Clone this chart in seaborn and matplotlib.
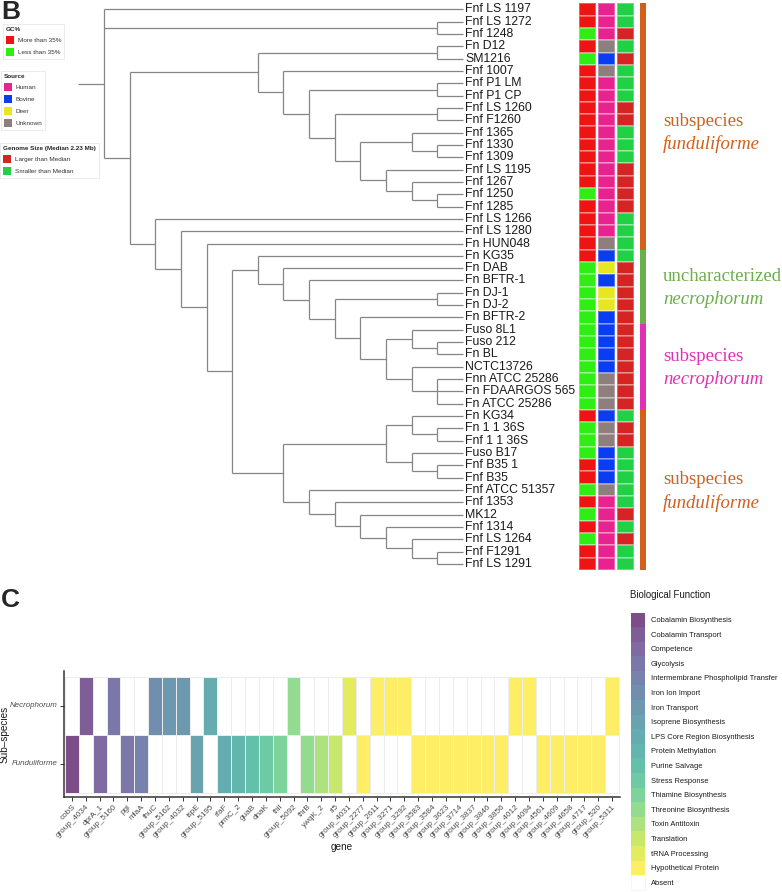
import matplotlib
matplotlib.use("Agg")
import matplotlib.pyplot as plt
from matplotlib.patches import Patch
from matplotlib.collections import LineCollection
from matplotlib.colors import ListedColormap
import numpy as np
import pandas as pd
import seaborn as sns

sns.set_style("white")
plt.rcParams['font.family'] = ['Liberation Sans', 'DejaVu Sans']

W, H = 782, 892

# ------------------------------------------------------------------ data B
tips = ["Fnf LS 1197", "Fnf LS 1272", "Fnf 1248", "Fn D12", "SM1216", "Fnf 1007",
        "Fnf P1 LM", "Fnf P1 CP", "Fnf LS 1260", "Fnf F1260", "Fnf 1365", "Fnf 1330",
        "Fnf 1309", "Fnf LS 1195", "Fnf 1267", "Fnf 1250", "Fnf 1285", "Fnf LS 1266",
        "Fnf LS 1280", "Fn HUN048", "Fn KG35", "Fn DAB", "Fn BFTR-1", "Fn DJ-1",
        "Fn DJ-2", "Fn BFTR-2", "Fuso 8L1", "Fuso 212", "Fn BL", "NCTC13726",
        "Fnn ATCC 25286", "Fn FDAARGOS 565", "Fn ATCC 25286", "Fn KG34", "Fn 1 1 36S",
        "Fnf 1 1 36S", "Fuso B17", "Fnf B35 1", "Fnf B35", "Fnf ATCC 51357", "Fnf 1353",
        "MK12", "Fnf 1314", "Fnf LS 1264", "Fnf F1291", "Fnf LS 1291"]

clade_upper = ("((Fn D12,SM1216),(Fnf 1007,((Fnf P1 LM,Fnf P1 CP),((Fnf LS 1260,Fnf F1260),"
               "((Fnf 1365,(Fnf 1330,Fnf 1309)),(Fnf LS 1195,(Fnf 1267,(Fnf 1250,Fnf 1285))))))))")
clade_nec = ("(Fn KG35,(Fn DAB,(Fn BFTR-1,((Fn DJ-1,Fn DJ-2),(Fn BFTR-2,((Fuso 8L1,(Fuso 212,Fn BL)),"
             "(NCTC13726,(Fnn ATCC 25286,Fn FDAARGOS 565,Fn ATCC 25286))))))))")
clade_fund_low = ("(((Fn KG34,(Fn 1 1 36S,Fnf 1 1 36S)),(Fuso B17,(Fnf B35 1,Fnf B35))),"
                  "(Fnf ATCC 51357,(Fnf 1353,(MK12,(Fnf 1314,(Fnf LS 1264,(Fnf F1291,Fnf LS 1291)))))))")
clade_lower = "(Fnf LS 1266,(Fnf LS 1280,(Fn HUN048,(" + clade_nec + "," + clade_fund_low + "))))"
tree_newick = "(Fnf LS 1197,(Fnf LS 1272,Fnf 1248),(" + clade_upper + "," + clade_lower + "));"

gc_codes = "MMLMLMMMMMMMMMMLMMMMMLLLLLLLLLLLLMLLLMMLMLMLMM"
source_codes = "HHHUBUHHHHHHHHHHHHHUBDBDDBBBBBUUUBUUBBBUHHHHHH"
genome_codes = "SSLSLSSSLLSSSLLLLSSSSLLLLLLLLLLLLSLLSSSSSLSLSS"

gc_names = {"M": "More than 35%", "L": "Less than 35%"}
gc_colors = {"M": "#EE1414", "L": "#2EEE14"}
source_names = {"H": "Human", "B": "Bovine", "D": "Deer", "U": "Unknown"}
source_colors = {"H": "#E8228E", "B": "#0A3CF2", "D": "#E8E61E", "U": "#8F7E7E"}
genome_names = {"L": "Larger than Median", "S": "Smaller than Median"}
genome_colors = {"L": "#D42424", "S": "#22D046"}

clade_run_top = ["subspecies", "uncharacterized", "subspecies", "subspecies"]
clade_run_bottom = ["funduliforme", "necrophorum", "necrophorum", "funduliforme"]
clade_run_lengths = [20, 6, 7, 13]
clade_colors = ["#D2601C", "#6AAF48", "#E030B8", "#D2601C"]

# ------------------------------------------------------------------ data C
genes = ["cobS", "group_4034", "dprA_1", "group_5160", "pgi", "mlaA", "fhuC", "group_5162",
         "group_4032", "ispE", "group_5195", "rfaF", "prmC_2", "guaB", "dnaK", "thiI",
         "group_5092", "thrB", "ywqK_2", "rl5", "group_4031", "group_2277", "group_2611",
         "group_3271", "group_3292", "group_3583", "group_3584", "group_3623", "group_3714",
         "group_3837", "group_3846", "group_3856", "group_4012", "group_4094", "group_4561",
         "group_4609", "group_4658", "group_4717", "group_520", "group_5311"]
functions = ["Cobalamin Biosynthesis", "Cobalamin Transport", "Competence", "Glycolysis",
             "Intermembrane Phospholipid Transfer", "Iron Ion Import", "Iron Transport",
             "Isoprene Biosynthesis", "LPS Core Region Biosynthesis", "Protein Methylation",
             "Purine Salvage", "Stress Response", "Thiamine Biosynthesis",
             "Threonine Biosynthesis", "Toxin Antitoxin", "Translation", "tRNA Processing",
             "Hypothetical Protein"]
gene_function = [0, 1, 2, 3, 3, 4, 5, 6, 6, 7, 8, 8, 9, 10, 11, 12, 13, 13, 14, 15, 16] + [17] * 19
necro_present = [0, 1, 0, 1, 0, 0, 1, 1, 1, 0, 1, 0, 0, 0, 0, 0, 1, 0, 0, 0,
                 1, 0, 1, 1, 1, 0, 0, 0, 0, 0, 0, 0, 1, 1, 0, 0, 0, 0, 0, 1]
fundu_present = [1, 0, 1, 0, 1, 1, 0, 0, 0, 1, 0, 1, 1, 1, 1, 1, 0, 1, 1, 1,
                 0, 1, 0, 0, 0, 1, 1, 1, 1, 1, 1, 1, 0, 0, 1, 1, 1, 1, 1, 0]
subspecies = ["Necrophorum", "Funduliforme"]

# ------------------------------------------------------------------ helpers
fig = plt.figure(figsize=(W / 100, H / 100), dpi=100)


def box(x0, y0, x1, y1):
    return [x0 / W, 1 - y1 / H, (x1 - x0) / W, (y1 - y0) / H]


def parse_newick(s):
    s = s.strip().rstrip(';')
    pos = 0

    def node():
        nonlocal pos
        if s[pos] == '(':
            pos += 1
            ch = [node()]
            while s[pos] == ',':
                pos += 1
                ch.append(node())
            assert s[pos] == ')'
            pos += 1
            return ch
        st = pos
        while pos < len(s) and s[pos] not in ',()':
            pos += 1
        return s[st:pos].strip()
    return node()


def height(n):
    return 0 if isinstance(n, str) else 1 + max(height(c) for c in n)


tree = parse_newick(tree_newick)
Hmax = height(tree)
tip_order = []
segs = []


def walk(n):
    if isinstance(n, str):
        tip_order.append(n)
        return (Hmax, len(tip_order))
    pts = [walk(c) for c in n]
    x = Hmax - height(n)
    ys = [p[1] for p in pts]
    for cx, cy in pts:
        segs.append([(x, cy), (cx, cy)])
    segs.append([(x, min(ys)), (x, max(ys))])
    return (x, (min(ys) + max(ys)) / 2)


root_x, root_y = walk(tree)
segs.append([(root_x - 1, root_y), (root_x, root_y)])
assert tip_order == tips, (tip_order, tips)

# ------------------------------------------------------------------ panel B tree
unit = (463 - 104) / Hmax
ax_t = fig.add_axes(box(78.3, 3.3, 578, 570))
ax_t.add_collection(LineCollection(segs, colors='#858585', linewidths=0.9))
ax_t.set_xlim(-1, -1 + (578 - 78.3) / unit)
ax_t.set_ylim(len(tips) + 0.5, 0.5)
ax_t.axis('off')
for i, name in enumerate(tip_order, start=1):
    ax_t.text(Hmax + 0.09, i, name, fontsize=8.8, va='center', ha='left',
              color='#1a1a1a', clip_on=False)

# ------------------------------------------------------------------ panel B heat columns
columns = [(gc_codes, gc_colors, 579, 596.3), (source_codes, source_colors, 598.2, 615.4),
           (genome_codes, genome_colors, 617.2, 633.6)]
for codes, cmap_d, x0, x1 in columns:
    keys = list(cmap_d.keys())
    vals = pd.DataFrame({"v": [keys.index(c) for c in codes]})
    ax = fig.add_axes(box(x0, 3.3, x1, 570))
    sns.heatmap(vals, ax=ax, cmap=ListedColormap([cmap_d[k] for k in keys]),
                vmin=-0.5, vmax=len(keys) - 0.5, cbar=False, xticklabels=False,
                yticklabels=False, linewidths=0.35, linecolor=(1, 1, 1, 0.3))
    ax.set_xlabel(""); ax.set_ylabel("")

# clade bar
clade_idx = []
for k, n in enumerate(clade_run_lengths):
    clade_idx += [k] * n
ax_c = fig.add_axes(box(640, 3.3, 645.5, 570))
sns.heatmap(pd.DataFrame({"c": clade_idx}), ax=ax_c, cmap=ListedColormap(clade_colors),
            vmin=-0.5, vmax=len(clade_colors) - 0.5, cbar=False, xticklabels=False,
            yticklabels=False, linewidths=0)
ax_c.set_xlabel(""); ax_c.set_ylabel("")
tr = ax_c.get_yaxis_transform()
start = 0
for k, n in enumerate(clade_run_lengths):
    mid = start + n / 2 + (0.5 if k == 0 else 0.1)
    xf = (663 - 640) / 5.5
    ax_c.text(xf, mid - 0.93, clade_run_top[k], transform=tr, color=clade_colors[k],
              fontsize=13.5, family='Liberation Serif', va='center', ha='left', clip_on=False)
    ax_c.text(xf, mid + 0.93, clade_run_bottom[k], transform=tr, color=clade_colors[k],
              fontsize=13.5, family='Liberation Serif', style='italic', va='center',
              ha='left', clip_on=False)
    start += n


# legends B
def small_legend(title, names, colors, px, py):
    hs = [Patch(facecolor=colors[k], edgecolor='none') for k in names]
    leg = fig.legend(hs, [names[k] for k in names], title=title, loc='upper left',
                     bbox_to_anchor=(px / W, 1 - py / H), fontsize=4.6,
                     title_fontproperties={'size': 4.6, 'weight': 'bold'},
                     handlelength=1.25, handleheight=1.55, labelspacing=0.62,
                     handletextpad=0.6, borderpad=0.45, borderaxespad=0,
                     frameon=True, fancybox=False, edgecolor='#E3E3E3', framealpha=1)
    leg.get_frame().set_linewidth(0.5)
    leg._legend_box.align = "left"
    for t in leg.get_texts():
        t.set_color('#333333')
    return leg


small_legend("GC%", gc_names, gc_colors, 3, 24)
small_legend("Source", source_names, source_colors, 1, 71)
small_legend("Genome Size (Median 2.23 Mb)", genome_names, genome_colors, 0, 143)

fig.text(1 / W, 1.0, "B", fontsize=19, weight='bold', va='top', ha='left')
fig.text(1 / W, 1 - 588 / H, "C", fontsize=19, weight='bold', va='top', ha='left')

# ------------------------------------------------------------------ panel C
base = plt.cm.viridis(np.linspace(0, 1, len(functions)))[:, :3]
alpha = 0.7
func_colors = [tuple(alpha * c + (1 - alpha)) for c in base]
all_colors = func_colors + [(1, 1, 1)]
absent = len(functions)
mat = pd.DataFrame(
    [[gene_function[j] if necro_present[j] else absent for j in range(len(genes))],
     [gene_function[j] if fundu_present[j] else absent for j in range(len(genes))]],
    index=subspecies, columns=genes)

ax_h = fig.add_axes(box(64, 671, 620, 797))
sns.heatmap(mat, ax=ax_h, cmap=ListedColormap(all_colors), vmin=-0.5, vmax=absent + 0.5,
            cbar=False, linewidths=0.5, linecolor='#ECECEC',
            xticklabels=genes, yticklabels=subspecies)
ax_h.set_xlim(-0.07, len(genes) + 0.07)
ax_h.set_ylim(2.07, -0.1)
for s in ['left', 'bottom']:
    ax_h.spines[s].set_visible(True)
    ax_h.spines[s].set_color('#333333')
    ax_h.spines[s].set_linewidth(1.1)
for s in ['top', 'right']:
    ax_h.spines[s].set_visible(False)
ax_h.tick_params(axis='both', length=3, width=0.7, color='#333333', labelsize=5.9,
                 labelcolor='#4D4D4D', pad=1.5, bottom=True, left=True)
plt.setp(ax_h.get_xticklabels(), rotation=45, ha='right', rotation_mode='anchor')
plt.setp(ax_h.get_yticklabels(), rotation=0, style='italic', fontsize=5.7)
ax_h.set_xlabel("gene", fontsize=7.2, labelpad=2, color='#1a1a1a')
ax_h.set_ylabel("Sub–species", fontsize=7.2, labelpad=0, color='#1a1a1a')

fig.text(630 / W, 1 - 595 / H, "Biological Function", fontsize=6.9, va='center',
         ha='left', color='#1a1a1a')
hs = [Patch(facecolor=c, edgecolor='none') for c in func_colors] + \
     [Patch(facecolor='white', edgecolor='#F0F0F0', linewidth=0.4)]
legC = fig.legend(hs, functions + ["Absent"], loc='upper left',
                  bbox_to_anchor=(631 / W, 1 - 612.5 / H), fontsize=5.45,
                  handlelength=1.85, handleheight=2.59, labelspacing=0,
                  handletextpad=0.75, borderpad=0, borderaxespad=0, frameon=False)
for t in legC.get_texts():
    t.set_color('#1a1a1a')

fig.savefig("out.png", dpi=100)
